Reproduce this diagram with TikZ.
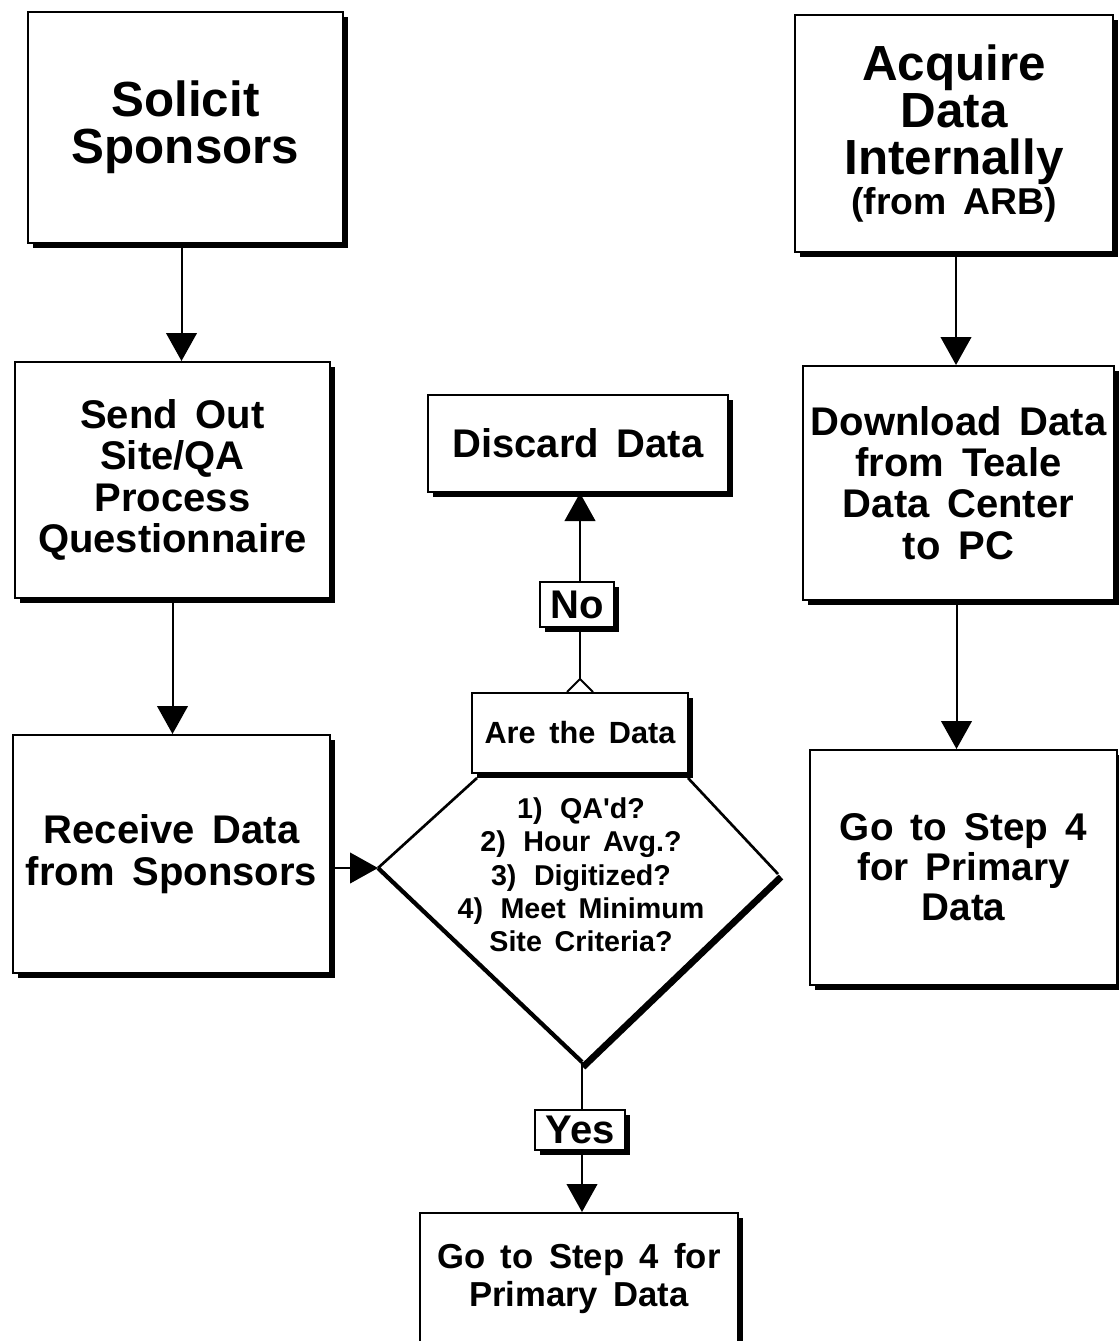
\documentclass[tikz,border=0pt]{standalone}
\usepackage{fontspec}
\setmainfont{Liberation Sans}[WordSpace=1.6]
\usetikzlibrary{arrows.meta,shadows,calc}
\newcommand\mybx[7]{\node[box,#6, minimum width={(#4-#2)*0.75pt}, minimum height={(#5-#3)*0.75pt}] (#1) at ({(#2+#4)/2},{(#3+#5)/2}) {#7};}
\begin{document}
\begin{tikzpicture}[x=0.75pt,y=-0.75pt,
  box/.style={draw=black, line width=1.5pt, fill=white, inner sep=0pt, align=center,
    drop shadow={shadow xshift=4pt, shadow yshift=-4pt, fill=black, opacity=1}},
  bigtxt/.style={font=\fontsize{37}{35}\selectfont\bfseries},
  midtxt/.style={font=\fontsize{30}{31}\selectfont\bfseries},
  arr/.style={line width=1.5pt, -{Triangle[width=23pt,length=21pt]}},
  plain/.style={line width=1.5pt}
]
\useasboundingbox (0,0) rectangle (1119,1341);

% top boxes
\mybx{solicit}{28}{12}{343}{243}{bigtxt}{Solicit\\Sponsors}
\mybx{acquire}{795}{15}{1113}{252}{bigtxt}{Acquire\\Data\\Internally\\[-5pt]{\fontsize{28}{30}\selectfont\bfseries (from ARB)}}

% second row
\mybx{sendout}{15}{362}{330}{598}{midtxt}{Send Out\\Site/QA\\Process\\Questionnaire}
\mybx{discard}{428}{395}{728}{492}{midtxt}{Discard Data}
\mybx{download}{803}{366}{1114}{600}{midtxt}{Download Data\\from Teale\\Data Center\\to PC}

% third row
\mybx{receive}{13}{735}{330}{973}{midtxt}{Receive Data\\from Sponsors}
\mybx{go4r}{810}{750}{1117}{985}{font=\fontsize{29}{30}\selectfont\bfseries}{Go to Step 4\\for Primary\\Data}

% diamond
\coordinate (dtl) at (477,778);
\coordinate (dl) at (378,868);
\coordinate (db) at (582,1062);
\coordinate (dr) at (778,874);
\coordinate (dtr) at (688,778);
\draw[line width=5pt] ($(dr)+(3,3)$) -- ($(db)+(1,5)$);
\draw[line width=2pt] (dtl) -- (dl);
\draw[line width=3.2pt] (dl) -- (db);
\draw[line width=2pt] (dr) -- (dtr);
\node[font=\fontsize{21.5}{25}\selectfont\bfseries, align=center] (crit) at (581,875)
  {1)\, QA\textquotesingle d?\\2)\, Hour Avg.?\\3)\, Digitized?\\4)\, Meet Minimum\\Site Criteria?};
\mybx{are}{472}{693}{688}{773}{font=\fontsize{23}{25}\selectfont\bfseries}{Are the Data}
\draw[plain, line join=miter] ($(are.north)+(-13,0)$) -- ($(are.north)+(0,-13)$) -- ($(are.north)+(13,0)$);

% labels
\mybx{no}{540}{582}{614}{627}{font=\fontsize{30}{30}\selectfont\bfseries}{No}
\mybx{yes}{535}{1110}{625}{1150}{font=\fontsize{30}{30}\selectfont\bfseries}{Yes}

% bottom box
\mybx{go4b}{420}{1213}{738}{1345}{font=\fontsize{26}{28.5}\selectfont\bfseries}{Go to Step 4 for\\Primary Data}

% connectors
\coordinate (a1) at ($(solicit.south)+(-4,0)$);
\draw[arr] (a1) -- (a1 |- sendout.north);
\draw[arr] (sendout.south) -- (sendout.south |- receive.north);
\coordinate (a2) at ($(acquire.south)+(2,0)$);
\draw[arr] (a2) -- (a2 |- download.north);
\coordinate (a3) at ($(download.south)+(-2,0)$);
\draw[arr] (a3) -- (a3 |- go4r.north);
\draw[arr] (receive.east |- dl) -- (dl);
\draw[plain] ($(are.north)+(0,-13)$) -- (are.north |- no.south);
\draw[arr] (are.north |- no.north) -- (are.north |- discard.south);
\draw[plain] (db) -- (db |- yes.north);
\draw[arr] (db |- yes.south) -- (db |- go4b.north);
\end{tikzpicture}
\end{document}
